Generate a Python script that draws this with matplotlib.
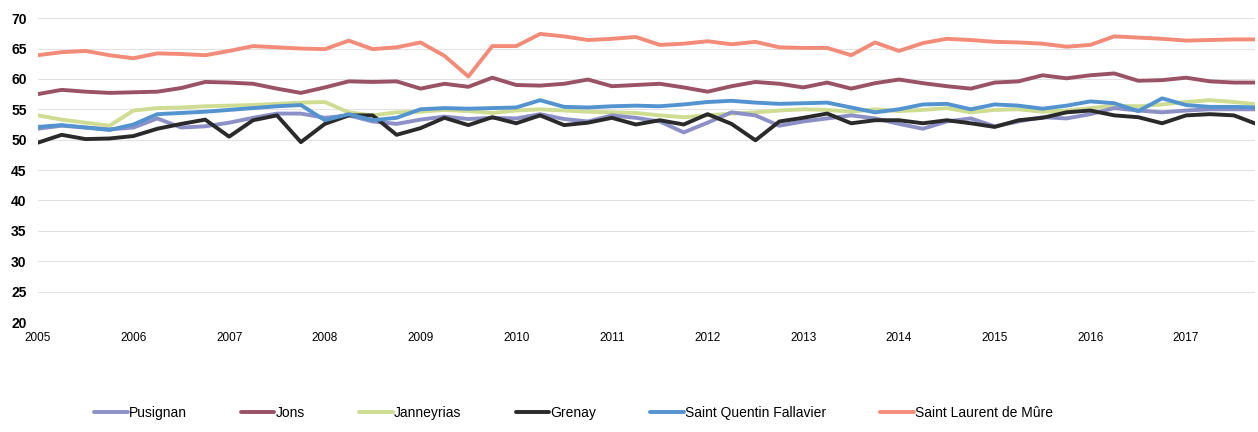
import matplotlib
matplotlib.use('Agg')
import matplotlib.pyplot as plt
import numpy as np

# quarterly readings, 2005 Q1 -> 2017 Q4
quarters = 2005 + 0.25 * np.arange(52)
years = list(range(2005, 2018))

pusignan = [51.8, 52.3, 52.0, 51.7, 52.0, 53.5, 52.0, 52.2, 52.8, 53.6, 54.3, 54.3, 53.6,
            54.0, 53.0, 52.6, 53.3, 53.8, 53.4, 53.6, 53.5, 54.2, 53.4, 53.0, 54.0, 53.6,
            53.0, 51.2, 52.8, 54.5, 54.0, 52.3, 53.0, 53.5, 54.0, 53.5, 52.6, 51.8, 53.0,
            53.5, 52.2, 53.0, 53.7, 53.5, 54.2, 55.2, 54.8, 54.5, 54.8, 55.0, 55.0, 55.0]
jons = [57.5, 58.2, 57.9, 57.7, 57.8, 57.9, 58.5, 59.5, 59.4, 59.2, 58.4, 57.7, 58.6,
        59.6, 59.5, 59.6, 58.4, 59.2, 58.7, 60.2, 59.0, 58.9, 59.2, 59.9, 58.8, 59.0,
        59.2, 58.6, 57.9, 58.8, 59.5, 59.2, 58.6, 59.4, 58.4, 59.3, 59.9, 59.3, 58.8,
        58.4, 59.4, 59.6, 60.6, 60.1, 60.6, 60.9, 59.7, 59.8, 60.2, 59.6, 59.4, 59.4]
janneyrias = [54.0, 53.3, 52.8, 52.3, 54.8, 55.2, 55.3, 55.5, 55.6, 55.7, 55.9, 56.1, 56.2,
              54.5, 54.0, 54.5, 54.6, 54.9, 54.7, 54.4, 54.8, 55.0, 54.8, 54.6, 54.5, 54.4,
              54.0, 53.7, 54.0, 54.3, 54.5, 54.8, 55.0, 54.9, 54.6, 55.0, 54.7, 54.9, 55.2,
              54.5, 54.9, 55.0, 54.6, 54.8, 55.2, 55.6, 55.5, 55.8, 56.2, 56.5, 56.2, 55.8]
grenay = [49.5, 50.8, 50.1, 50.2, 50.6, 51.8, 52.6, 53.3, 50.5, 53.2, 54.0, 49.6, 52.6,
          54.0, 54.0, 50.8, 51.9, 53.6, 52.4, 53.7, 52.7, 54.0, 52.4, 52.8, 53.6, 52.5,
          53.2, 52.5, 54.2, 52.6, 49.9, 53.0, 53.6, 54.3, 52.7, 53.2, 53.2, 52.7, 53.2,
          52.7, 52.1, 53.2, 53.6, 54.5, 54.8, 54.0, 53.7, 52.7, 54.0, 54.2, 54.0, 52.5]
st_quentin = [52.1, 52.4, 52.0, 51.6, 52.5, 54.2, 54.4, 54.6, 54.9, 55.2, 55.5, 55.7, 53.2,
              54.2, 53.2, 53.6, 55.0, 55.2, 55.1, 55.2, 55.3, 56.5, 55.4, 55.3, 55.5, 55.6,
              55.5, 55.8, 56.2, 56.4, 56.1, 55.9, 56.0, 56.1, 55.3, 54.5, 55.0, 55.8, 55.9,
              55.0, 55.8, 55.6, 55.1, 55.6, 56.3, 56.0, 54.7, 56.8, 55.7, 55.4, 55.4, 55.3]
st_laurent = [63.9, 64.4, 64.6, 63.9, 63.4, 64.2, 64.1, 63.9, 64.6, 65.4, 65.2, 65.0, 64.9,
              66.3, 64.9, 65.2, 66.0, 63.8, 60.4, 65.4, 65.4, 67.4, 67.0, 66.4, 66.6, 66.9,
              65.6, 65.8, 66.2, 65.7, 66.1, 65.2, 65.1, 65.1, 63.9, 66.0, 64.6, 65.9, 66.6,
              66.4, 66.1, 66.0, 65.8, 65.3, 65.6, 67.0, 66.8, 66.6, 66.3, 66.4, 66.5, 66.5]

names = ['Pusignan', 'Jons', 'Janneyrias', 'Grenay', 'Saint Quentin Fallavier',
         'Saint Laurent de Mûre']
series = [pusignan, jons, janneyrias, grenay, st_quentin, st_laurent]
colors = ['#8d90c6', '#9a5265', '#cedd92', '#2a2a2a', '#5393cf', '#f28b77']
zorders = [3, 2, 2, 4, 5, 2]

plt.rcParams['font.family'] = ['Liberation Sans', 'DejaVu Sans']

fig = plt.figure(figsize=(12.58, 4.32), dpi=100)
ax = fig.add_axes([0.030, 0.2546, 0.9676, 0.7034])

for name, vals, c, z in zip(names, series, colors, zorders):
    ax.plot(quarters, vals, color=c, linewidth=2.8, label=name, zorder=z,
            solid_joinstyle='round', solid_capstyle='round')

ax.set_xlim(2005, 2017.72)
ax.set_ylim(20, 70)
ax.set_yticks(range(20, 71, 5))
ax.set_xticks(years)
ax.set_xticklabels([str(y) for y in years], fontsize=8.5)
ax.tick_params(axis='y', labelsize=10, length=0, pad=8)
ax.tick_params(axis='x', length=0, pad=7)
for lab in ax.get_yticklabels():
    lab.set_fontweight('bold')
ax.yaxis.grid(True, color='#e2e2e2', linewidth=0.8)
ax.set_axisbelow(True)
for s in ax.spines.values():
    s.set_visible(False)

fig.legend(loc='center', bbox_to_anchor=(0.456, 0.045), ncol=6, frameon=False,
           fontsize=10, handlelength=2.4, handletextpad=0.1, columnspacing=3.9)

fig.savefig('out.png', dpi=100)
